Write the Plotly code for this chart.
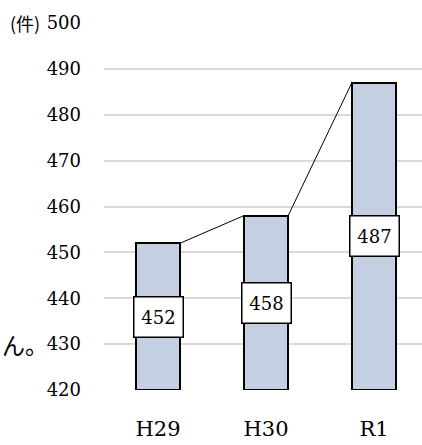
import plotly.graph_objects as go

categories = ["H29", "H30", "R1"]
values = [452, 458, 487]
y_ticks = [420, 430, 440, 450, 460, 470, 480, 490, 500]
unit_label = "(件)"
base = 420
bar_w = 0.41

fig = go.Figure()
xs = list(range(len(categories)))
fig.add_trace(go.Bar(
    x=xs, y=[v - base for v in values], base=base, width=bar_w,
    marker=dict(color="#c4d0e1", line=dict(color="black", width=2)),
    hoverinfo="skip", showlegend=False,
))
# series lines between bar tops
lx, ly = [], []
for i in range(len(values) - 1):
    lx += [xs[i] + bar_w / 2, xs[i + 1] - bar_w / 2, None]
    ly += [values[i], values[i + 1], None]
fig.add_trace(go.Scatter(x=lx, y=ly, mode="lines", line=dict(color="black", width=1),
                         hoverinfo="skip", showlegend=False))

serif = "DejaVu Serif"
for i, v in enumerate(values):
    fig.add_annotation(x=xs[i], y=(base + v) / 2, text=str(v), showarrow=False,
                       font=dict(family=serif, size=18, color="black"),
                       bgcolor="white", bordercolor="black", borderwidth=1.5,
                       width=46, height=37, borderpad=1)

fig.add_annotation(xref="paper", yref="paper", x=-0.302, y=1.0, xanchor="left", yanchor="middle",
                   text=unit_label, showarrow=False,
                   font=dict(family="Noto Sans CJK JP", size=18, color="black"))
fig.add_annotation(xref="paper", yref="paper", x=-0.327, y=(430 - 420) / 80, xanchor="left", yanchor="middle",
                   text="ん。", showarrow=False,
                   font=dict(family="Noto Sans CJK JP", size=23, color="black"))

fig.update_layout(
    width=422, height=445,
    margin=dict(l=104, r=0, t=23, b=55),
    plot_bgcolor="white", paper_bgcolor="white",
    bargap=0,
    xaxis=dict(range=[-0.5, 2.444], tickvals=xs, ticktext=categories, showgrid=False,
               zeroline=False, showline=False, ticks="", ticklabelstandoff=24,
               tickfont=dict(family=serif, size=21, color="black"), fixedrange=True),
    yaxis=dict(range=[420, 500], tickvals=y_ticks, showgrid=True, gridcolor="#d9d9d9",
               gridwidth=1.5, zeroline=False, showline=False, ticks="", ticklabelstandoff=22,
               tickfont=dict(family=serif, size=18, color="black"), fixedrange=True),
)

fig.write_html("out.html", config={"displayModeBar": False},
               post_script="document.body.style.margin='0';document.body.style.overflow='hidden';")
